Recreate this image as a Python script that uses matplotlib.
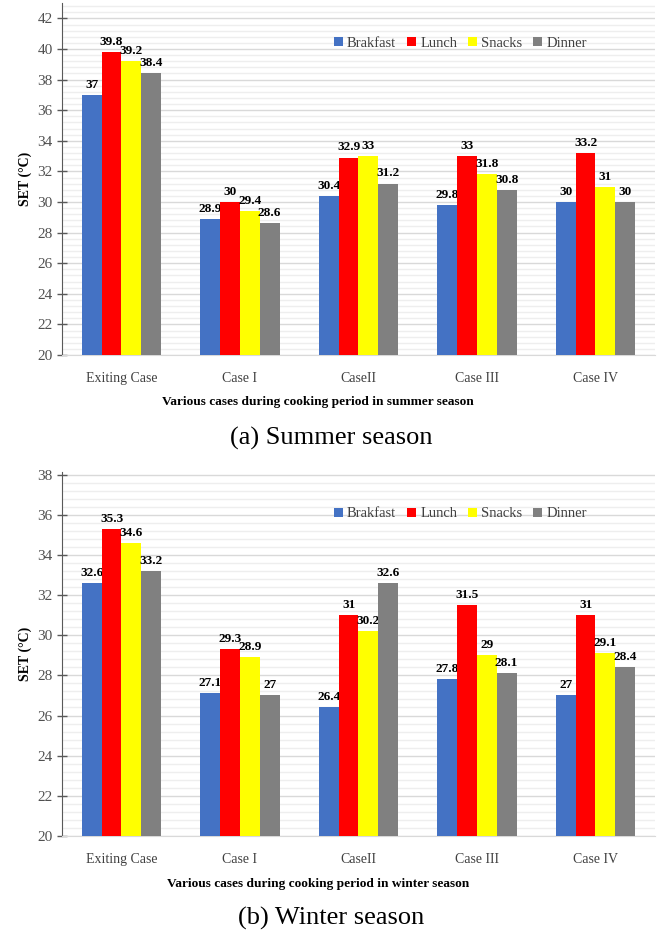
import matplotlib
matplotlib.use("Agg")
import matplotlib.pyplot as plt
import numpy as np
from matplotlib.ticker import MultipleLocator

plt.rcParams['font.family'] = ['Liberation Serif', 'DejaVu Serif']

cases = ["Exiting Case", "Case I", "CaseII", "Case III", "Case IV"]
meals = ["Brakfast", "Lunch", "Snacks", "Dinner"]
colors = ["#4472C4", "#FF0000", "#FFFF00", "#808080"]

summer_brakfast = [37, 28.9, 30.4, 29.8, 30]
summer_lunch = [39.8, 30, 32.9, 33, 33.2]
summer_snacks = [39.2, 29.4, 33, 31.8, 31]
summer_dinner = [38.4, 28.6, 31.2, 30.8, 30]

winter_brakfast = [32.6, 27.1, 26.4, 27.8, 27]
winter_lunch = [35.3, 29.3, 31, 31.5, 31]
winter_snacks = [34.6, 28.9, 30.2, 29, 29.1]
winter_dinner = [33.2, 27, 32.6, 28.1, 28.4]

fig = plt.figure(figsize=(6.62, 9.36), dpi=100)


def draw_panel(rect, series, ylim, yticks, xlabel, caption, caption_y):
    ax = fig.add_axes(rect)
    x = np.arange(len(cases))
    w = 0.167
    for i, (vals, c, name) in enumerate(zip(series, colors, meals)):
        pos = x + (i - 1.5) * w
        ax.bar(pos, np.array(vals) - ylim[0], w, bottom=ylim[0], color=c,
               label=name, zorder=3, edgecolor='none')
        for p, v in zip(pos, vals):
            ax.annotate(f"{v:g}", (p, v), xytext=(0, 3), textcoords='offset points',
                        ha='center', va='bottom', fontsize=9.5, fontweight='bold')
    ax.set_xlim(-0.5, len(cases) - 0.5)
    ax.set_ylim(*ylim)
    ax.set_yticks(yticks)
    ax.yaxis.set_minor_locator(MultipleLocator(0.4))
    ax.grid(axis='y', which='major', color='#d9d9d9', linewidth=1.0, zorder=0)
    ax.grid(axis='y', which='minor', color='#eeeeee', linewidth=1.0, zorder=0)
    ax.set_axisbelow(True)
    ax.set_xticks(x)
    ax.set_xticklabels(cases, fontsize=10, color='#404040')
    ax.tick_params(axis='x', length=0, pad=12)
    ax.tick_params(axis='y', which='major', direction='inout', length=7,
                   labelsize=11, labelcolor='#505050', color='#595959', width=1)
    ax.tick_params(axis='y', which='minor', length=0)
    for s in ['top', 'right']:
        ax.spines[s].set_visible(False)
    ax.spines['left'].set_color('#595959')
    ax.spines['bottom'].set_color('#d9d9d9')
    ax.set_ylabel("SET (°C)", fontsize=10, fontweight='bold', labelpad=4)
    ax.set_xlabel(xlabel, fontsize=9.6, fontweight='bold')
    ax.xaxis.set_label_coords(0.432, -0.116)
    ax.legend(loc='center', bbox_to_anchor=(0.672, 0.886), ncol=4,
              frameon=False, fontsize=10.5, handlelength=0.6, handleheight=0.6,
              handletextpad=0.3, columnspacing=0.75, labelcolor='#404040')
    fig.text(0.5, caption_y, caption, ha='center', va='center', fontsize=19)
    return ax


draw_panel([0.094, 0.6207, 0.895, 0.376],
           [summer_brakfast, summer_lunch, summer_snacks, summer_dinner],
           (20, 43), np.arange(20, 43, 2),
           "Various cases during cooking period in summer season",
           "(a) Summer season", 1 - 438 / 936)

draw_panel([0.094, 0.1068, 0.895, 0.3884],
           [winter_brakfast, winter_lunch, winter_snacks, winter_dinner],
           (20, 38.1), np.arange(20, 39, 2),
           "Various cases during cooking period in winter season",
           "(b) Winter season", 1 - 918 / 936)

fig.savefig("out.png", dpi=100)
